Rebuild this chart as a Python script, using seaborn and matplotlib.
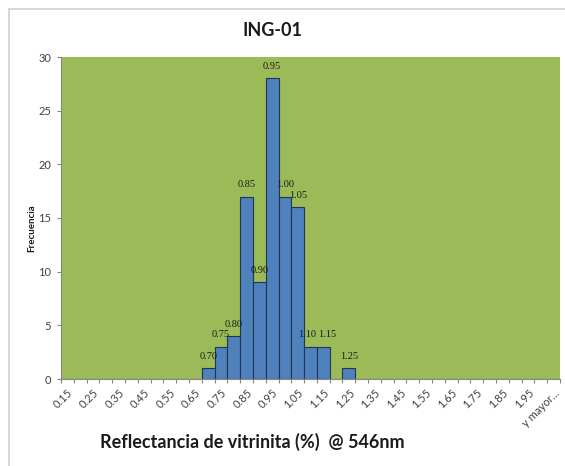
import matplotlib
matplotlib.use("Agg")
import matplotlib.pyplot as plt
import seaborn as sns
import pandas as pd
from matplotlib.lines import Line2D

# Histogram bins (class marks) and counts
bins = ["0.15", "0.20", "0.25", "0.30", "0.35", "0.40", "0.45", "0.50", "0.55",
        "0.60", "0.65", "0.70", "0.75", "0.80", "0.85", "0.90", "0.95", "1.00",
        "1.05", "1.10", "1.15", "1.20", "1.25", "1.30", "1.35", "1.40", "1.45",
        "1.50", "1.55", "1.60", "1.65", "1.70", "1.75", "1.80", "1.85", "1.90",
        "1.95", "2.00", "y mayor..."]
counts = [0, 0, 0, 0, 0, 0, 0, 0, 0,
          0, 0, 1, 3, 4, 17, 9, 28, 17,
          16, 3, 3, 0, 1, 0, 0, 0, 0,
          0, 0, 0, 0, 0, 0, 0, 0, 0,
          0, 0, 0]
yticks = [0, 5, 10, 15, 20, 25, 30]

title = "ING-01"
xlabel = "Reflectancia de vitrinita (%)  @ 546nm"
ylabel = "Frecuencia"

df = pd.DataFrame({"bin": bins, "count": counts})

sns.set_theme(style="white")
plt.rcParams["font.family"] = ["Lato", "DejaVu Sans"]

fig = plt.figure(figsize=(5.65, 4.66), dpi=100)
W, H = 565, 466
ax = fig.add_axes([61 / W, 1 - 379 / H, (560 - 61) / W, (379 - 57) / H])
ax.set_facecolor("#9BBB59")

sns.barplot(data=df, x="bin", y="count", order=bins, width=1.0,
            color="#4F81BD", edgecolor="#1F3550", linewidth=0.8,
            saturation=1, ax=ax)

ax.set_xlim(-0.5, len(bins) - 0.5)
ax.set_ylim(0, 30)
ax.set_yticks(yticks)
ax.set_yticklabels([str(v) for v in yticks], fontsize=8, color="#404040")

# Labels on every other category, tick marks on category boundaries
ax.set_xticks(range(0, len(bins), 2))
ax.set_xticklabels(bins[::2], rotation=45, ha="right", rotation_mode="anchor",
                   fontsize=8, color="#404040")
ax.set_xticks([i - 0.5 for i in range(len(bins) + 1)], minor=True)
ax.tick_params(axis="x", which="major", length=0, pad=6)
ax.tick_params(axis="x", which="minor", length=3, color="#868686", width=0.8,
               direction="out", bottom=True)
ax.tick_params(axis="y", which="major", length=3, color="#868686", width=0.8,
               direction="out", left=True, pad=4)

for side in ("top", "right"):
    ax.spines[side].set_visible(False)
for side in ("left", "bottom"):
    ax.spines[side].set_color("#868686")
    ax.spines[side].set_linewidth(0.8)

ax.set_xlabel("")
ax.set_ylabel("")

# Category data labels above each non-empty bar; the two crowded ones
# at 1.10 and 1.15 are nudged apart a little
nudge = {"1.10": -2.5, "1.15": 2.5}
for i, (b, c) in enumerate(zip(bins, counts)):
    if c > 0:
        ax.annotate(b, xy=(i, c), xytext=(nudge.get(b, 0), 8.5),
                    textcoords="offset points",
                    ha="center", va="center", fontsize=7.5,
                    family=["Liberation Serif", "DejaVu Serif"], color="#1a1a1a")

fig.text(272 / W, 1 - 31 / H, title, ha="center", va="center",
         fontsize=13, fontweight="bold", color="#1a1a1a")
fig.text(252 / W, 1 - 442 / H, xlabel, ha="center", va="center",
         fontsize=13, fontweight="bold", color="#1a1a1a")
fig.text(32 / W, 1 - 228 / H, ylabel, ha="center", va="center",
         rotation=90, fontsize=7, fontweight="bold", color="#1a1a1a")

# Chart frame
fig.add_artist(Line2D([8.5 / W, 8.5 / W], [1 - 8.5 / H, 0], color="#cfcfcf",
                      linewidth=1.2, transform=fig.transFigure))
fig.add_artist(Line2D([8.5 / W, 1], [1 - 8.5 / H, 1 - 8.5 / H], color="#cfcfcf",
                      linewidth=1.2, transform=fig.transFigure))

fig.savefig("out.png", dpi=100, facecolor="white")
